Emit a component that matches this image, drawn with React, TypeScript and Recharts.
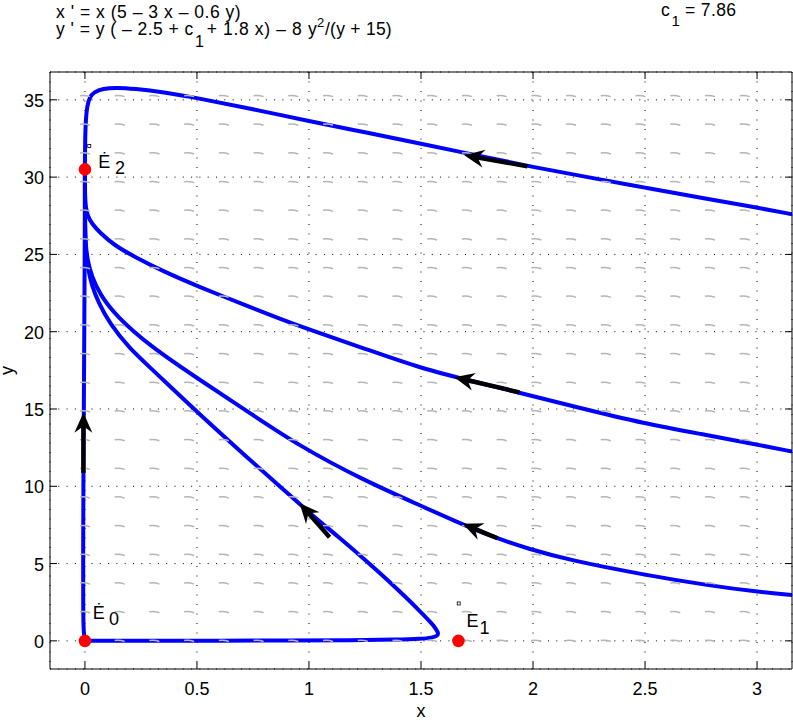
import React from "react";
import { ComposedChart, XAxis, YAxis, CartesianGrid, Line, Scatter } from "recharts";

const FONT = '"Liberation Sans", Arial, Helvetica, sans-serif';

// axis ticks
const xTicks = [0, 0.5, 1, 1.5, 2, 2.5, 3];
const yTicks = [0, 5, 10, 15, 20, 25, 30, 35];

// direction-field grid (gray dashes)
const fieldX = [0, 0.155, 0.31, 0.465, 0.62, 0.775, 0.93, 1.085, 1.24, 1.395, 1.55, 1.705, 1.86, 2.015, 2.17, 2.325, 2.48, 2.635, 2.79, 2.945];
const fieldY = [0, 1.855, 3.71, 5.565, 7.42, 9.275, 11.13, 12.985, 14.84, 16.695, 18.55, 20.405, 22.26, 24.115, 25.97, 27.825, 29.68, 31.535, 33.39, 35.245];

// trajectories
const curveA = [
  [3.156, 27.6], [3.0, 28.03], [2.75, 28.66], [2.5, 29.32], [2.25, 29.98], [2.0, 30.65],
  [1.75, 31.4], [1.5, 32.17], [1.25, 32.9], [1.0, 33.62], [0.75, 34.4], [0.5, 35.12],
  [0.35, 35.5], [0.22, 35.72], [0.14, 35.79], [0.08, 35.73], [0.04, 35.5], [0.02, 35.15],
  [0.01, 34.6], [0.004, 33.8], [0.001, 32.5], [0, 31.3], [0, 30.5],
];
const curveB = [
  [3.156, 12.25], [3.0, 12.7], [2.75, 13.38], [2.5, 14.05], [2.2, 15.1], [1.94, 16.05],
  [1.75, 16.72], [1.5, 17.62], [1.25, 18.9], [1.0, 20.15], [0.87, 20.84], [0.735, 21.6],
  [0.5, 22.96], [0.35, 23.9], [0.22, 24.85], [0.13, 25.6], [0.067, 26.4], [0.03, 27.0],
  [0.012, 27.5], [0.004, 28.0], [0, 28.8], [0, 30.5],
];
const curveC = [
  [3.156, 2.96], [3.0, 3.18], [2.8, 3.55], [2.5, 4.26], [2.16, 5.23], [1.98, 5.95],
  [1.84, 6.62], [1.69, 7.5], [1.49, 8.8], [1.24, 10.42], [0.96, 12.58], [0.735, 14.75],
  [0.5, 17.0], [0.29, 19.07], [0.14, 21.0], [0.067, 22.4], [0.03, 23.6], [0.012, 24.6],
  [0.004, 25.5], [0, 26.8], [0, 30.5],
];
const curveD = [
  [0, 0], [0.3, 0.005], [0.6, 0.01], [0.9, 0.02], [1.2, 0.04], [1.4, 0.08], [1.5, 0.13],
  [1.55, 0.2], [1.573, 0.32], [1.578, 0.5], [1.568, 0.75], [1.55, 1.1], [1.49, 2.0],
  [1.43, 2.85], [1.354, 3.9], [1.27, 5.0], [1.13, 6.75], [1.0, 8.3], [0.87, 10.0],
  [0.735, 11.72], [0.5, 14.8], [0.29, 17.7], [0.2, 18.9], [0.111, 20.5], [0.06, 21.9],
  [0.03, 23.0], [0.012, 24.2], [0.004, 25.2], [0, 26.5], [0, 30.5],
];
const curveV = [
  [0, 0], [-0.006, 0.5], [-0.008, 2], [-0.008, 6], [-0.007, 10], [-0.005, 15],
  [-0.003, 20], [-0.001, 25], [0, 30.5],
];

// direction arrows: [tail, tip]
const arrows = [
  [[1.975, 30.7], [1.693, 31.42]],
  [[1.939, 16.08], [1.649, 17.06]],
  [[1.842, 6.64], [1.686, 7.57]],
  [[1.092, 6.7], [0.958, 8.91]],
  [[-0.007, 10.86], [-0.007, 14.75]],
];

// equilibria
const equilibria = [
  { id: "E0", x: 0, y: 0, name: "\u0116", sub: "0" },
  { id: "E1", x: 1.667, y: 0, name: "E", sub: "1" },
  { id: "E2", x: 0, y: 30.5, name: "\u0116", sub: "2" },
];

const labelOffsets: Record<string, any> = {
  E0: { ex: 7.7, ey: -21.4, sx: 24, sy: -15.7 },
  E1: { ex: 8, ey: -14, sx: 21, sy: -6.7, box: [0.3, -37.4] },
  E2: { ex: 13.3, ey: -1, sx: 30, sy: 5, box: [4.3, -23.3] },
};

const toPts = (arr: number[][]) => arr.map(([x, y]) => ({ x, y }));
const fieldPts = fieldX.flatMap((x) => fieldY.map((y) => ({ x, y })));

const BottomTick = ({ x, y, payload }: any) => (
  <g>
    <line x1={x} y1={y} x2={x} y2={y - 7} stroke="#000" />
    <text x={x} y={y + 26} textAnchor="middle" fontSize={18} fontFamily={FONT} fill="#000">
      {payload.value}
    </text>
  </g>
);
const LeftTick = ({ x, y, payload }: any) => (
  <g>
    <line x1={x} y1={y} x2={x + 7} y2={y} stroke="#000" />
    <text x={x - 6} y={y + 7} textAnchor="end" fontSize={18} fontFamily={FONT} fill="#000">
      {payload.value}
    </text>
  </g>
);
const TopTick = ({ x, y }: any) => <line x1={x} y1={y} x2={x} y2={y + 7} stroke="#000" />;
const RightTick = ({ x, y }: any) => <line x1={x} y1={y} x2={x - 7} y2={y} stroke="#000" />;

const FieldDash = ({ cx, cy }: any) => (
  <path
    d={`M${cx - 5},${cy - 0.4} Q${cx},${cy - 1.2} ${cx + 5},${cy + 0.6}`}
    stroke="#b5b5b5"
    strokeWidth={1.5}
    fill="none"
  />
);

const RedDot = ({ cx, cy }: any) => <circle cx={cx} cy={cy} r={6.3} fill="#ff0000" />;

const EqLabel = ({ cx, cy, payload }: any) => {
  const o = labelOffsets[payload.id];
  return (
    <g fontFamily={FONT} fontSize={18} fill="#000">
      <text x={cx + o.ex} y={cy + o.ey}>{payload.name}</text>
      <text x={cx + o.sx} y={cy + o.sy}>{payload.sub}</text>
      {o.box && (
        <rect x={cx + o.box[0] - 1.5} y={cy + o.box[1] - 1.5} width={3} height={3} fill="none" stroke="#000" strokeWidth={0.8} />
      )}
    </g>
  );
};

const ArrowDot = (props: any) => {
  const { index, points } = props;
  if (index !== 1 || !points || points.length < 2) return <g key={props.key} />;
  const p0 = points[0];
  const p1 = points[1];
  const dx = p1.x - p0.x;
  const dy = p1.y - p0.y;
  const len = Math.hypot(dx, dy) || 1;
  const ux = dx / len;
  const uy = dy / len;
  const nx = -uy;
  const ny = ux;
  const L = 20;
  const W = 9;
  const N = 13.5;
  const bx = p1.x - ux * L;
  const by = p1.y - uy * L;
  const mx = p1.x - ux * N;
  const my = p1.y - uy * N;
  return (
    <g key={props.key}>
      <line x1={p0.x} y1={p0.y} x2={mx + ux} y2={my + uy} stroke="#000" strokeWidth={4.4} />
      <polygon
        points={`${p1.x},${p1.y} ${bx + nx * W},${by + ny * W} ${mx},${my} ${bx - nx * W},${by - ny * W}`}
        fill="#000"
      />
    </g>
  );
};

export default function App() {
  const curves = [curveA, curveB, curveC, curveD, curveV];
  return (
    <div style={{ position: "absolute", left: 0, top: 0, width: 793, height: 720, background: "#fff" }}>
      <ComposedChart width={793} height={720} margin={{ top: 71, right: 0, bottom: 0, left: 0 }}>
        <CartesianGrid horizontal={false} stroke="#000" strokeDasharray="1 8.5" />
        <CartesianGrid vertical={false} stroke="#000" strokeDasharray="1 7.3" />
        <XAxis
          type="number"
          dataKey="x"
          domain={[-0.156, 3.156]}
          allowDataOverflow
          ticks={xTicks}
          interval={0}
          height={51}
          tickSize={0}
          tickMargin={0}
          tickLine={false}
          axisLine={{ stroke: "#000" }}
          tick={<BottomTick />}
        />
        <XAxis
          xAxisId="t"
          orientation="top"
          type="number"
          dataKey="x"
          domain={[-0.156, 3.156]}
          allowDataOverflow
          ticks={xTicks}
          interval={0}
          height={1}
          tickSize={0}
          tickMargin={0}
          tickLine={false}
          axisLine={{ stroke: "#000" }}
          tick={<TopTick />}
        />
        <YAxis
          type="number"
          domain={[-1.82, 36.8]}
          allowDataOverflow
          ticks={yTicks}
          interval={0}
          width={50}
          tickSize={0}
          tickMargin={0}
          tickLine={false}
          axisLine={{ stroke: "#000" }}
          tick={<LeftTick />}
        />
        <YAxis
          yAxisId="r"
          orientation="right"
          type="number"
          domain={[-1.82, 36.8]}
          allowDataOverflow
          ticks={yTicks}
          interval={0}
          width={1}
          tickSize={0}
          tickMargin={0}
          tickLine={false}
          axisLine={{ stroke: "#000" }}
          tick={<RightTick />}
        />
        <Scatter data={fieldPts} dataKey="y" shape={<FieldDash />} isAnimationActive={false} />
        {curves.map((c, i) => (
          <Line
            key={`c${i}`}
            data={toPts(c)}
            dataKey="y"
            type="basis"
            stroke="#0000ff"
            strokeWidth={4}
            dot={false}
            activeDot={false}
            isAnimationActive={false}
          />
        ))}
        {arrows.map((a, i) => (
          <Line
            key={`a${i}`}
            data={toPts(a)}
            dataKey="y"
            type="linear"
            stroke="none"
            dot={ArrowDot}
            activeDot={false}
            isAnimationActive={false}
          />
        ))}
        <Scatter data={equilibria} dataKey="y" shape={<RedDot />} isAnimationActive={false} />
        <Scatter data={equilibria} dataKey="y" shape={<EqLabel />} isAnimationActive={false} />

        <g fontFamily={FONT} fill="#000">
          <text x={56} y={18.3} fontSize={17.5} textLength={184.7} lengthAdjust="spacing">
            x ' = x (5 – 3 x – 0.6 y)
          </text>
          <text x={56} y={35} fontSize={17.5} textLength={137.3} lengthAdjust="spacing">
            y ' = y ( – 2.5 + c
          </text>
          <text x={195} y={47} fontSize={16}>1</text>
          <text x={206.7} y={35} fontSize={17.5} textLength={110} lengthAdjust="spacing">
            + 1.8 x) – 8 y
          </text>
          <text x={317} y={27} fontSize={13}>2</text>
          <text x={325} y={35} fontSize={17.5} textLength={66.7} lengthAdjust="spacing">
            /(y + 15)
          </text>
          <text x={661} y={16} fontSize={17.5}>c</text>
          <text x={671.5} y={25.5} fontSize={15}>1</text>
          <text x={685} y={16} fontSize={17.5} textLength={51} lengthAdjust="spacing">
            = 7.86
          </text>
          <text x={421} y={716.5} fontSize={18} textAnchor="middle">x</text>
          <text x={13} y={370.5} fontSize={18} textAnchor="middle" transform="rotate(-90 13 370.5)">y</text>
        </g>
      </ComposedChart>
    </div>
  );
}
